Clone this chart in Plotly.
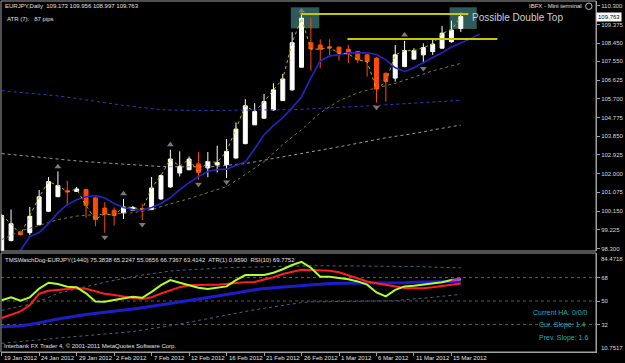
import plotly.graph_objects as go

# ---------------- data ----------------
date_labels = ["19 Jan 2012", "24 Jan 2012", "29 Jan 2012", "2 Feb 2012", "7 Feb 2012",
               "12 Feb 2012", "16 Feb 2012", "21 Feb 2012", "26 Feb 2012", "1 Mar 2012",
               "6 Mar 2012", "11 Mar 2012", "15 Mar 2012"]
date_label_bars = [0, 4, 8, 12, 16, 20, 24, 28, 32, 36, 40, 44, 48]

opens = [98.05, 98.69, 99.10, 99.08, 99.47, 100.14, 100.86, 101.15, 101.12, 101.21,
         100.80, 100.30, 100.19, 100.06, 100.19, 100.27, 100.22, 100.75, 101.34, 102.03,
         102.19, 102.48, 102.28, 102.43, 102.44, 102.77, 103.48, 104.41, 104.74, 105.15,
         105.61, 106.14, 107.26, 108.47, 108.36, 108.27, 108.25, 108.15, 108.03, 107.87,
         107.71, 106.96, 106.72, 107.29, 107.66, 107.87, 108.03, 108.20, 108.52, 109.173]
highs = [100.00, 100.22, 99.15, 100.35, 101.19, 101.83, 102.11, 101.65, 101.34, 101.26,
         100.85, 100.58, 100.33, 100.75, 100.40, 100.50, 101.83, 101.95, 103.18, 103.10,
         102.85, 103.07, 103.07, 103.38, 103.71, 104.53, 105.68, 105.48, 105.94, 106.47,
         106.93, 108.99, 109.89, 109.68, 108.64, 108.64, 108.28, 108.36, 108.05, 107.92,
         107.75, 107.00, 108.36, 108.56, 108.20, 108.44, 108.64, 109.30, 109.56, 109.956]
lows = [97.95, 98.65, 98.95, 98.96, 99.45, 100.10, 100.84, 100.43, 101.10, 99.81,
        99.40, 99.08, 99.43, 99.76, 100.17, 99.70, 100.20, 100.70, 101.30, 101.86,
        102.17, 101.70, 101.83, 102.06, 101.78, 102.75, 103.45, 104.40, 104.72, 105.10,
        105.60, 106.10, 107.25, 107.09, 107.21, 107.75, 107.59, 107.46, 107.46, 106.80,
        105.51, 105.56, 106.55, 107.26, 107.64, 107.46, 107.87, 108.18, 108.47, 108.997]
closes = [99.93, 99.52, 98.98, 99.89, 100.85, 101.60, 101.41, 101.10, 101.24, 100.43,
          99.73, 100.01, 99.93, 100.35, 100.33, 100.23, 101.29, 101.90, 102.72, 102.36,
          102.72, 102.06, 102.60, 102.55, 103.10, 104.20, 105.35, 105.07, 105.56, 106.14,
          106.68, 108.47, 109.68, 108.16, 108.15, 108.22, 107.95, 107.92, 107.62, 107.54,
          106.18, 106.55, 107.87, 108.08, 108.08, 108.23, 108.40, 108.94, 109.10, 109.763]
header_ohlc = ["109.173", "109.956", "108.997", "109.763"]

# fast MA (solid blue), displayed shifted two bars forward: bars 2..51
fast_ma_start = 2
fast_ma = [98.20, 98.89, 99.09, 99.53, 100.07, 100.47, 100.71, 100.86, 100.91, 100.79,
           100.52, 100.32, 100.22, 100.20, 100.32, 100.52, 100.81, 101.21, 101.55, 101.85,
           102.10, 102.20, 102.22, 102.39, 102.59, 103.23, 103.92, 104.37, 104.76, 105.25,
           105.80, 106.73, 107.57, 107.82, 107.87, 107.97, 107.98, 107.97, 107.89, 107.62,
           107.23, 107.05, 107.23, 107.50, 107.74, 107.97, 108.26, 108.46, 108.66, 108.90]
# olive dotted MA
mid_ma = [98.74, 98.95, 99.16, 99.30, 99.43, 99.58, 99.73, 99.82, 99.90, 99.94,
          99.97, 99.99, 100.00, 100.03, 100.07, 100.14, 100.22, 100.37, 100.52, 100.64,
          100.76, 100.91, 101.06, 101.21, 101.36, 101.65, 101.95, 102.27, 102.59, 103.01,
          103.43, 103.80, 104.17, 104.59, 105.01, 105.30, 105.60, 105.80, 105.99, 106.12,
          106.24, 106.35, 106.46, 106.62, 106.78, 106.93, 107.08, 107.20, 107.33, 107.45]
# blue dotted MA
slow_ma_blue = [106.10, 106.06, 106.02, 105.99, 105.95, 105.90, 105.84, 105.78, 105.71, 105.63,
                105.55, 105.49, 105.43, 105.37, 105.32, 105.26, 105.20, 105.16, 105.14, 105.13,
                105.12, 105.12, 105.12, 105.12, 105.13, 105.13, 105.14, 105.14, 105.15, 105.15,
                105.15, 105.16, 105.18, 105.20, 105.22, 105.24, 105.27, 105.29, 105.32, 105.34,
                105.37, 105.40, 105.42, 105.45, 105.48, 105.51, 105.54, 105.57, 105.60, 105.62]
# grey dotted MA
slow_ma_grey = [102.99, 102.95, 102.90, 102.86, 102.82, 102.77, 102.72, 102.67, 102.62, 102.59,
                102.56, 102.53, 102.49, 102.45, 102.42, 102.40, 102.37, 102.35, 102.34, 102.33,
                102.32, 102.32, 102.33, 102.36, 102.40, 102.44, 102.50, 102.58, 102.66, 102.75,
                102.83, 102.91, 102.99, 103.06, 103.15, 103.24, 103.32, 103.41, 103.50, 103.60,
                103.70, 103.77, 103.84, 103.91, 103.98, 104.06, 104.16, 104.25, 104.34, 104.40]

# fractal arrows
up_fractal_bars = [6, 13, 18, 32, 43]
up_fractal_prices = [102.34, 101.01, 103.43, 110.04, 108.85]
dn_fractal_bars = [11, 15, 21, 24, 40, 45]
dn_fractal_prices = [98.86, 99.48, 101.48, 101.58, 105.28, 107.19]

# drawn resistance lines and highlight boxes
level_prices = [109.89, 108.66]
level_start_bars = [31.9, 36.9]
level_end_bars = [49.8, 52.9]
box_bars = [(30.86, 33.9), (47.8, 50.7)]
box_prices = [(109.18, 110.22), (109.15, 110.22)]

# lower panel: TMS WatchDog
rsi_line = [50.6, 52.8, 50.3, 52.8, 59.5, 64.0, 63.0, 61.0, 60.5, 55.9,
            49.6, 49.5, 50.7, 52.0, 53.2, 52.5, 57.0, 62.2, 66.0, 64.0,
            62.0, 60.2, 59.2, 60.2, 61.2, 66.0, 69.9, 69.9, 69.9, 71.7,
            74.3, 77.6, 80.0, 75.5, 68.6, 68.6, 67.8, 66.6, 65.0, 62.5,
            56.5, 53.5, 58.5, 61.2, 61.6, 62.4, 63.1, 64.3, 66.0, 66.74]
signal_line = [37.0, 39.5, 42.0, 46.9, 55.6, 57.9, 58.5, 59.2, 59.7, 59.4,
               57.7, 55.5, 54.6, 53.4, 52.3, 51.6, 52.8, 55.7, 58.2, 60.6,
               62.0, 62.5, 62.5, 62.5, 63.2, 64.0, 64.3, 64.5, 66.1, 68.2,
               70.7, 72.2, 74.0, 73.8, 73.5, 73.2, 72.0, 69.5, 67.2, 65.0,
               63.6, 62.3, 60.8, 59.9, 59.7, 59.7, 60.5, 61.6, 62.6, 63.41]
base_line = [30.3, 30.5, 30.8, 32.0, 33.2, 34.8, 36.2, 37.6, 38.5, 39.6,
             40.4, 41.0, 41.7, 42.7, 43.8, 44.9, 45.9, 47.3, 48.3, 49.3,
             50.4, 51.6, 52.6, 53.6, 55.0, 56.2, 57.6, 58.6, 59.6, 60.2,
             60.8, 61.4, 62.0, 62.6, 63.1, 63.5, 63.6, 63.6, 63.6, 63.6,
             63.6, 63.6, 63.7, 64.0, 64.3, 64.6, 64.8, 65.0, 65.1, 65.22]
upper_band = [42.8, 44.3, 45.8, 47.5, 49.8, 53.0, 55.8, 57.6, 59.4, 61.3,
              63.0, 64.4, 65.8, 67.3, 68.8, 69.9, 70.9, 72.0, 72.9, 73.5,
              74.0, 74.4, 74.8, 75.1, 75.5, 75.7, 75.9, 76.1, 76.3, 76.5,
              76.7, 77.0, 77.0, 77.0, 77.0, 77.0, 77.0, 76.9, 76.8, 76.8,
              76.7, 76.7, 76.6, 76.5, 76.4, 76.3, 76.1, 75.9, 75.6, 75.38]
lower_band = [17.6, 18.3, 19.0, 19.9, 20.4, 21.0, 21.8, 22.4, 22.9, 23.4,
              23.9, 24.4, 25.1, 25.9, 26.6, 27.6, 28.5, 29.7, 31.0, 32.4,
              33.8, 35.3, 36.6, 37.9, 39.2, 40.6, 42.0, 43.3, 44.4, 45.6,
              46.8, 48.0, 48.8, 49.3, 49.4, 49.4, 49.5, 49.7, 49.9, 50.0,
              49.9, 49.7, 50.2, 51.0, 51.5, 52.0, 52.8, 53.6, 54.4, 55.07]
magenta_bars = [48, 49]
magenta_vals = [65.5, 67.3]
osc_levels = [68, 50, 32]

price_ticks = [110.300, 109.375, 108.450, 107.550, 106.625, 105.700, 104.775,
               103.850, 102.925, 102.000, 101.075, 100.150, 99.225, 98.300]
osc_min_label, osc_max_label = "10.7517", "84.4718"
current_price = 109.763

# ---------------- figure ----------------
W, H = 625, 363
ML, MR, MT, MB = 1, 22, 1, 11
PW, PH = W - ML - MR, H - MT - MB


def px_x(p):
    return (p - ML) / PW


def px_y(p):
    return 1 - (p - MT) / PH


FONT = "Liberation Sans, Arial, sans-serif"
bars = list(range(len(closes)))

fig = go.Figure()

# long MAs (dotted)
fig.add_trace(go.Scatter(x=bars, y=slow_ma_grey, mode="lines",
                         line=dict(color="#9a9a9a", width=1, dash="dot"), xaxis="x", yaxis="y"))
fig.add_trace(go.Scatter(x=bars, y=slow_ma_blue, mode="lines",
                         line=dict(color="#2a3cc8", width=1, dash="dot"), xaxis="x", yaxis="y"))
fig.add_trace(go.Scatter(x=bars, y=mid_ma, mode="lines",
                         line=dict(color="#7a7a26", width=1, dash="dot"), xaxis="x", yaxis="y"))
fig.add_trace(go.Scatter(x=[fast_ma_start + k for k in range(len(fast_ma))], y=fast_ma, mode="lines",
                         line=dict(color="#2226c8", width=1.6), xaxis="x", yaxis="y"))
fig.add_trace(go.Scatter(x=bars, y=closes, mode="lines",
                         line=dict(color="#b8b800", width=1, dash="dot"), xaxis="x", yaxis="y"))

fig.add_trace(go.Candlestick(
    x=bars, open=opens, high=highs, low=lows, close=closes,
    increasing=dict(line=dict(color="#ffffff", width=1), fillcolor="#ffffff"),
    decreasing=dict(line=dict(color="#ff4a0a", width=1), fillcolor="#ff4a0a"),
    whiskerwidth=0, xaxis="x", yaxis="y"))

# resistance lines
for lv, b0, b1 in zip(level_prices, level_start_bars, level_end_bars):
    fig.add_trace(go.Scatter(x=[b0, b1], y=[lv, lv], mode="lines",
                             line=dict(color="#c8c800", width=2), xaxis="x", yaxis="y"))

# fractals
fig.add_trace(go.Scatter(x=up_fractal_bars, y=up_fractal_prices, mode="markers",
                         marker=dict(symbol="triangle-up", size=6, color="#7a7a7a"),
                         xaxis="x", yaxis="y"))
fig.add_trace(go.Scatter(x=dn_fractal_bars, y=dn_fractal_prices, mode="markers",
                         marker=dict(symbol="triangle-down", size=6, color="#7a7a7a"),
                         xaxis="x", yaxis="y"))

# lower panel
fig.add_trace(go.Scatter(x=bars, y=upper_band, mode="lines",
                         line=dict(color="#456585", width=1, dash="dot"), xaxis="x2", yaxis="y2"))
fig.add_trace(go.Scatter(x=bars, y=lower_band, mode="lines",
                         line=dict(color="#456585", width=1, dash="dot"), xaxis="x2", yaxis="y2"))
fig.add_trace(go.Scatter(x=bars, y=base_line, mode="lines",
                         line=dict(color="#1e1ec8", width=3), xaxis="x2", yaxis="y2"))
fig.add_trace(go.Scatter(x=bars, y=signal_line, mode="lines",
                         line=dict(color="#ff1e1e", width=2), xaxis="x2", yaxis="y2"))
fig.add_trace(go.Scatter(x=bars, y=rsi_line, mode="lines",
                         line=dict(color="#adff2f", width=2), xaxis="x2", yaxis="y2"))
fig.add_trace(go.Scatter(x=magenta_bars, y=magenta_vals, mode="lines",
                         line=dict(color="#e020e0", width=2), xaxis="x2", yaxis="y2"))

xr = [-0.7 / 9.48, (PW - 0.7) / 9.48]
main_dom = [px_y(251), 1]
low_dom = [0, px_y(253)]
ymain_range = [110.3 - (251 - 5.7) / 20.23, 110.3 + (5.7 - 1) / 20.23]
ylow_range = [68 - (352 - 277.5) / 1.3056, 68 + (277.5 - 253) / 1.3056]

axis_font = dict(family=FONT, size=6, color="#d8d8d8")
fig.update_layout(
    width=W, height=H, margin=dict(l=ML, r=MR, t=MT, b=MB),
    paper_bgcolor="#000000", plot_bgcolor="#000000", showlegend=False,
    boxgap=0.4,
    xaxis=dict(domain=[0, 1], range=xr, anchor="y", showticklabels=False, showgrid=False,
               zeroline=False, rangeslider=dict(visible=False), ticks=""),
    yaxis=dict(domain=main_dom, range=ymain_range, side="right", tickvals=price_ticks,
               ticktext=["%.3f" % v for v in price_ticks], ticks="outside", ticklen=3,
               tickcolor="#a0a0a0", showline=True, linecolor="#a0a0a0", showgrid=False,
               zeroline=False, tickfont=axis_font),
    xaxis2=dict(domain=[0, 1], range=xr, anchor="y2", showticklabels=False, showgrid=False,
                zeroline=False, tickvals=date_label_bars, ticks="outside", ticklen=3,
                tickcolor="#a0a0a0", showline=True, linecolor="#a0a0a0",
                rangeslider=dict(visible=False)),
    yaxis2=dict(domain=low_dom, range=ylow_range, side="right", tickvals=osc_levels,
                ticktext=[str(v) for v in osc_levels], ticks="outside", ticklen=3,
                tickcolor="#a0a0a0", showline=True, linecolor="#a0a0a0", showgrid=False,
                zeroline=False, tickfont=axis_font),
)

shapes = []
# highlight boxes
for (b0, b1), (p0, p1) in zip(box_bars, box_prices):
    shapes.append(dict(type="rect", xref="x", yref="y", x0=b0, x1=b1, y0=p0, y1=p1,
                       fillcolor="rgba(83,161,161,0.56)", line=dict(width=0), layer="below"))
# oscillator level lines
for lv in osc_levels:
    shapes.append(dict(type="line", xref="paper", yref="y2", x0=0, x1=1, y0=lv, y1=lv,
                       line=dict(color="#5a5a5a", width=1, dash="dot"), layer="below"))
# frames
shapes.append(dict(type="rect", xref="paper", yref="paper", x0=0, x1=1, y0=main_dom[0], y1=1,
                   line=dict(color="#a0a0a0", width=1)))
shapes.append(dict(type="rect", xref="paper", yref="paper", x0=0, x1=1, y0=0, y1=low_dom[1],
                   line=dict(color="#a0a0a0", width=1)))
# terminal icon
shapes.append(dict(type="circle", xref="paper", yref="paper", x0=px_x(592.5), x1=px_x(599),
                   y0=px_y(9.5), y1=px_y(3), line=dict(color="#c0c0c0", width=1)))
fig.update_layout(shapes=shapes)

ann = []


def txt(text, x, y, size=6, color="#e0e0e0", xanchor="left", xref="paper", yref="paper", **kw):
    ann.append(dict(text=text, x=x, y=y, xref=xref, yref=yref, xanchor=xanchor, yanchor="middle",
                    showarrow=False, font=dict(family=FONT, size=size, color=color), **kw))


txt("EURJPY,Daily  " + " ".join(header_ohlc), px_x(3), px_y(6))
txt("ATR (7):   87 pips", px_x(5), px_y(19))
txt("IBFX - Mini terminal", px_x(591), px_y(6), xanchor="right")
txt("Possible Double Top", px_x(476), px_y(18), size=10, color="#d0d0d0")
txt("TMSWatchDog-EURJPY(1440) 75.3838 65.2247 55.0656 66.7367 63.4142  ATR(1) 0.9590  RSI(10) 69.7752",
    px_x(3), px_y(260))
txt("Interbank FX Trader 4, \u00a9 2001-2011 MetaQuotes Software Corp.", px_x(2), px_y(346))
txt("Current HA: 0/0/0", px_x(597), px_y(312.5), size=7, color="#22b0b0", xanchor="right")
txt("Cur. Slope: 1.4", px_x(594), px_y(325), size=7, color="#22b0b0", xanchor="right")
txt("Prev. Slope: 1.6", px_x(597), px_y(337.5), size=7, color="#22b0b0", xanchor="right")
txt(osc_max_label, px_x(606), px_y(259), color="#d8d8d8")
txt(osc_min_label, px_x(606), px_y(348), color="#d8d8d8")
for b, lab in zip(date_label_bars, date_labels):
    txt(lab, b, px_y(357.5), xref="x2", color="#e0e0e0")
ann.append(dict(text="%.3f" % current_price, x=1.0, y=current_price, xref="paper", yref="y",
                xanchor="left", yanchor="middle", showarrow=False, bgcolor="#ffffff",
                borderpad=1, font=dict(family=FONT, size=6, color="#000000")))
fig.update_layout(annotations=ann)

fig.write_html("out.html")
